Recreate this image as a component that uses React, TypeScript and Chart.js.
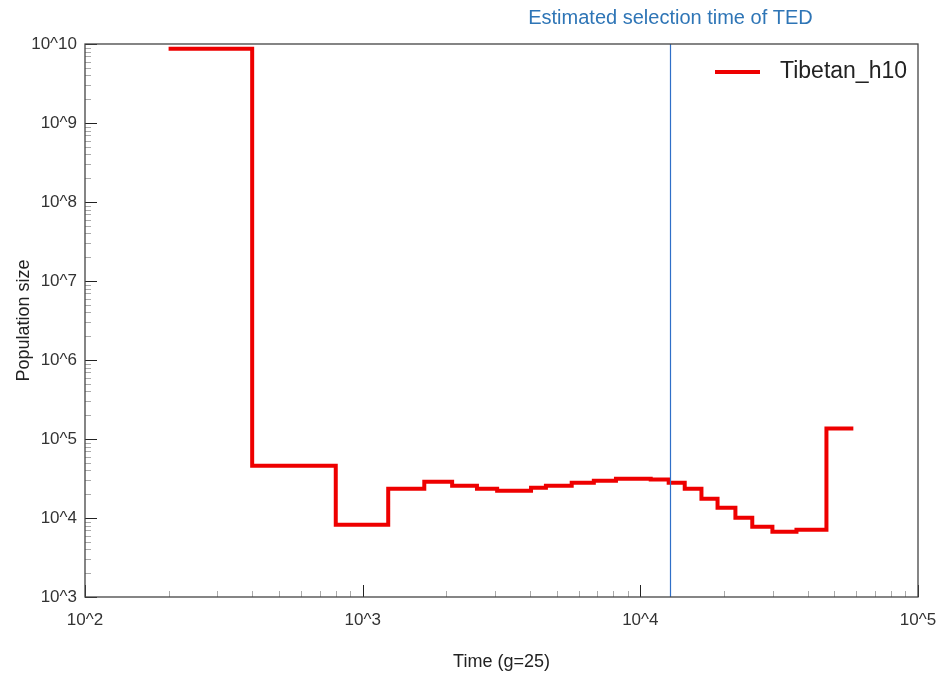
import React, { useEffect, useRef } from "react";
import { Chart, registerables } from "chart.js";

Chart.register(...registerables);

// Step boundaries (time in years, g=25) and population size for each step
const stepTimes = [200, 400, 800, 1236, 1667, 2100, 2580, 3050, 4040, 4570, 5660, 6800, 8170, 10900, 12650, 14450, 16600, 18970, 22000, 25300, 29900, 36500, 46800, 58500];
const popSizes = [8.7e9, 46000, 8200, 23500, 28800, 25600, 23500, 22200, 24200, 25600, 28000, 29700, 31500, 30800, 28000, 23500, 17500, 13500, 10100, 7730, 6680, 7080, 136000];
const xDecades = [100, 1000, 10000, 100000];
const yDecades = [1e3, 1e4, 1e5, 1e6, 1e7, 1e8, 1e9, 1e10];
const selectionTime = 12760;
const seriesName = "Tibetan_h10";
const annotationText = "Estimated selection time of TED";

const FONT = "'Liberation Sans', Arial, sans-serif";

const decoPlugin = {
  id: "deco",
  afterDatasetsDraw(chart: any) {
    const { ctx, chartArea: a, scales } = chart;
    const xs = scales.x;
    const ys = scales.y;
    ctx.save();
    // inner ticks
    const drawTicks = (axis: "x" | "y") => {
      const decs = axis === "x" ? xDecades : yDecades;
      for (let d = 0; d < decs.length; d++) {
        for (let m = 1; m <= 9; m++) {
          if (d === decs.length - 1 && m > 1) break;
          const v = decs[d] * m;
          const major = m === 1;
          const len = major ? 12 : 6;
          ctx.beginPath();
          ctx.strokeStyle = major ? "#222" : "#aaa";
          ctx.lineWidth = 1;
          if (axis === "x") {
            const px = Math.round(xs.getPixelForValue(v)) + 0.5;
            ctx.moveTo(px, a.bottom);
            ctx.lineTo(px, a.bottom - len);
          } else {
            const py = Math.round(ys.getPixelForValue(v)) + 0.5;
            ctx.moveTo(a.left, py);
            ctx.lineTo(a.left + len, py);
          }
          ctx.stroke();
        }
      }
    };
    drawTicks("x");
    drawTicks("y");
    // selection line
    const sx = Math.round(xs.getPixelForValue(selectionTime)) + 0.5;
    ctx.beginPath();
    ctx.strokeStyle = "#2f6fc8";
    ctx.lineWidth = 1.2;
    ctx.moveTo(sx, a.top);
    ctx.lineTo(sx, a.bottom);
    ctx.stroke();
    ctx.fillStyle = "#2e75b6";
    ctx.font = "20px " + FONT;
    ctx.textAlign = "center";
    ctx.textBaseline = "middle";
    ctx.fillText(annotationText, sx, 18);
    // frame
    ctx.strokeStyle = "#444";
    ctx.lineWidth = 1.3;
    ctx.strokeRect(a.left, a.top, a.right - a.left, a.bottom - a.top);
    // legend
    ctx.beginPath();
    ctx.strokeStyle = "#ee0000";
    ctx.lineWidth = 4;
    ctx.moveTo(715, 72);
    ctx.lineTo(760, 72);
    ctx.stroke();
    ctx.fillStyle = "#222";
    ctx.font = "23px " + FONT;
    ctx.textAlign = "left";
    ctx.textBaseline = "middle";
    ctx.fillText(seriesName, 780, 72);
    ctx.restore();
  },
};

export default function App() {
  const ref = useRef<HTMLCanvasElement>(null);
  useEffect(() => {
    if (!ref.current) return;
    const data = stepTimes.map((t, i) => ({ x: t, y: popSizes[Math.min(i, popSizes.length - 1)] }));
    const chart = new Chart(ref.current, {
      type: "scatter",
      data: {
        datasets: [
          {
            label: seriesName,
            data,
            showLine: true,
            stepped: true,
            borderColor: "#ee0000",
            borderWidth: 4,
            pointRadius: 0,
            borderJoinStyle: "miter",
            fill: false,
          } as any,
        ],
      },
      options: {
        animation: false,
        responsive: false,
        maintainAspectRatio: false,
        layout: { padding: { left: 0, top: 44, right: 25, bottom: 0 } },
        plugins: { legend: { display: false }, tooltip: { enabled: false } },
        scales: {
          x: {
            type: "logarithmic",
            min: 100,
            max: 100000,
            grid: { display: false, drawTicks: false },
            border: { display: false },
            afterBuildTicks: (s: any) => {
              s.ticks = xDecades.map((v) => ({ value: v }));
            },
            afterFit: (s: any) => {
              s.height = 82;
              s.paddingLeft = 0;
              s.paddingRight = 0;
            },
            ticks: {
              padding: 13,
              color: "#333",
              font: { family: FONT, size: 17 },
              maxRotation: 0,
              autoSkip: false,
              callback: (v: any) => "10^" + Math.round(Math.log10(Number(v))),
            },
            title: {
              display: true,
              text: "Time (g=25)",
              color: "#222",
              font: { family: FONT, size: 18 },
              padding: { top: 0, bottom: 6 },
            },
          },
          y: {
            type: "logarithmic",
            min: 1000,
            max: 1e10,
            grid: { display: false, drawTicks: false },
            border: { display: false },
            afterBuildTicks: (s: any) => {
              s.ticks = yDecades.map((v) => ({ value: v }));
            },
            afterFit: (s: any) => {
              s.width = 85;
              s.paddingTop = 0;
              s.paddingBottom = 0;
            },
            ticks: {
              padding: 8,
              color: "#333",
              font: { family: FONT, size: 17 },
              autoSkip: false,
              callback: (v: any) => "10^" + Math.round(Math.log10(Number(v))),
            },
            title: {
              display: true,
              text: "Population size",
              color: "#222",
              font: { family: FONT, size: 18 },
              padding: { top: 13, bottom: 0 },
            },
          },
        },
      },
      plugins: [decoPlugin],
    });
    return () => chart.destroy();
  }, []);
  return (
    <div style={{ position: "fixed", left: 0, top: 0, width: 943, height: 679, background: "#fff" }}>
      <canvas ref={ref} width={943} height={679} style={{ width: 943, height: 679, display: "block" }} />
    </div>
  );
}
